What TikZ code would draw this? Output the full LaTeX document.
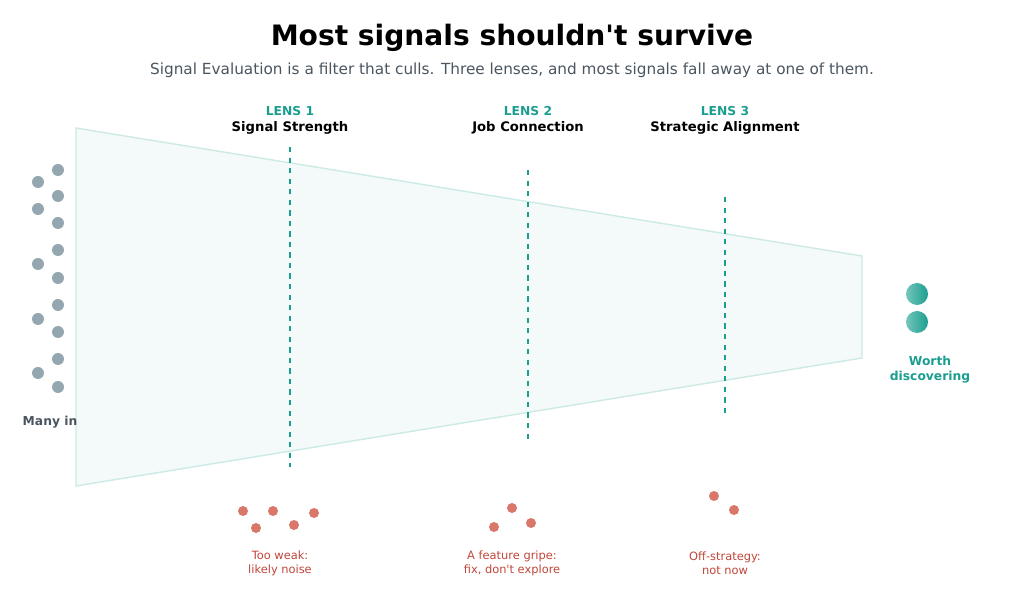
\documentclass[tikz,border=0pt]{standalone}
\usepackage{fontspec}
\setmainfont{DejaVu Sans}[Ligatures=TeXOff]
\definecolor{teal1}{HTML}{1A9E8F}
\definecolor{funnelfill}{HTML}{F3FAF9}
\definecolor{funneldraw}{HTML}{CDEAE5}
\definecolor{greydot}{HTML}{94A7B0}
\definecolor{reddot}{HTML}{D9776B}
\definecolor{redtext}{HTML}{C0463A}
\definecolor{subgrey}{HTML}{4A5560}
\tikzset{
    indot/.style={circle, fill=greydot, inner sep=0pt, minimum size=12*0.02cm},
    outdot/.style={circle, fill=reddot, inner sep=0pt, minimum size=10*0.02cm},
    keepdot/.style={circle, shade, left color=teal1!60, right color=teal1, inner sep=0pt, minimum size=22*0.02cm},
    lensnum/.style={font=\bfseries\fontsize{7}{8}\selectfont, text=teal1},
    lensname/.style={font=\bfseries\fontsize{7.5}{9}\selectfont},
    droptext/.style={font=\fontsize{6.5}{8}\selectfont, text=redtext, align=center},
    lensline/.style={teal1, dashed, line width=1.1pt},
}
\begin{document}
\begin{tikzpicture}[x=0.02cm, y=-0.02cm]
    \useasboundingbox (0,0) rectangle (1024,614);

    % title
    \node (title) at (512,38) {\bfseries\fontsize{16}{18}\selectfont Most signals shouldn't survive};
    \node (sub) at (512,70) [text=subgrey] {\fontsize{8.7}{10}\selectfont Signal Evaluation is a filter that culls. Three lenses, and most signals fall away at one of them.};

    % funnel
    \draw [fill=funnelfill, draw=funneldraw, line width=0.8pt] (76,128) -- (862,256) -- (862,358) -- (76,486) -- cycle;

    % lenses
    \foreach \x/\top/\bot/\n/\name in {290/147/467/1/Signal Strength, 528/170/443/2/Job Connection, 725/197/415/3/Strategic Alignment}{
        \node (num\n) at (\x,111) [lensnum] {LENS \n};
        \node (name\n) at (\x,128) [lensname] {\name};
        \coordinate (top\n) at (\x,\top);
        \coordinate (bot\n) at (\x,\bot);
        \draw [lensline] (top\n) -- (bot\n);
    }

    % many in
    \foreach \y [count=\i] in {182,209,264,319,373}
        \node (ina\i) at (38,\y) [indot] {};
    \foreach \y [count=\i] in {170,196,223,250,278,305,332,359,387}
        \node (inb\i) at (58,\y) [indot] {};
    \node (manyin) at (50,422) [text=subgrey, font=\bfseries\fontsize{7}{8}\selectfont] {Many in};

    % dropped
    \foreach \x/\y [count=\i] in {243/511, 256/528, 273/511, 294/525, 314/513, 494/527, 512/508, 531/523, 714/496, 734/510}
        \node (drop\i) at (\x,\y) [outdot] {};
    \node (weak) at (280,563) [droptext] {Too weak:\\likely noise};
    \node (gripe) at (512,563) [droptext] {A feature gripe:\\fix, don't explore};
    \node (offstrat) at (725,563) [droptext] {Off-strategy:\\not now};

    % worth discovering
    \node (keep1) at (917,294) [keepdot] {};
    \node (keep2) at (917,322) [keepdot] {};
    \node (worth) at (930,370) [align=center, text=teal1, font=\bfseries\fontsize{7}{8.5}\selectfont] {Worth\\discovering};
\end{tikzpicture}
\end{document}
